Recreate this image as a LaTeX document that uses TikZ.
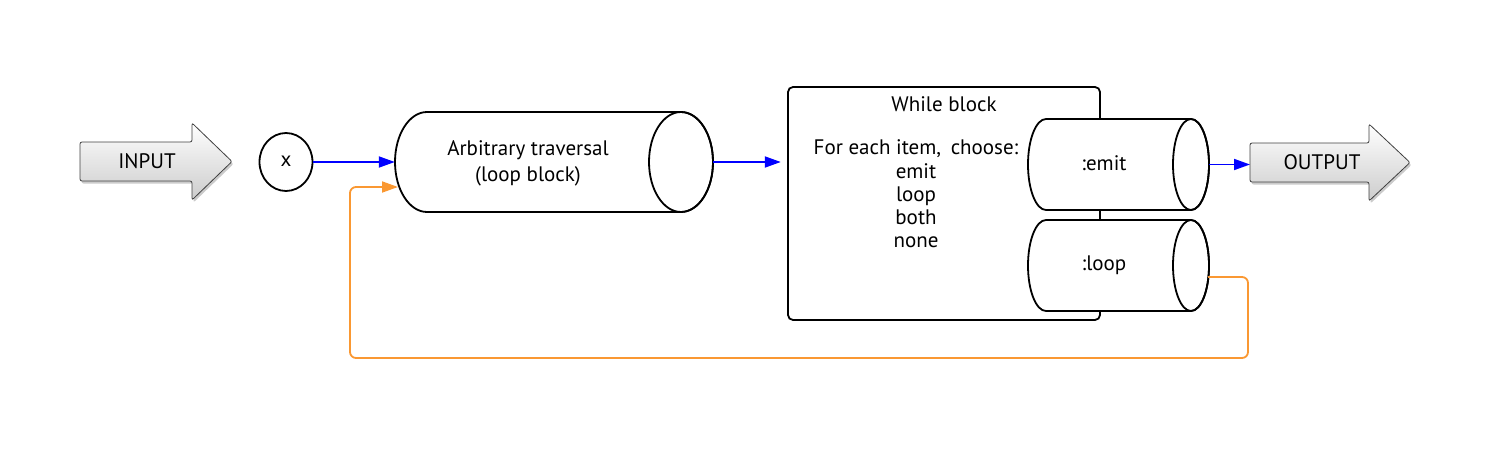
\documentclass[tikz,border=0pt]{standalone}
\usepackage{fontspec}
\setmainfont{PT Sans}
\usetikzlibrary{arrows.meta,shadows,calc,shapes.geometric}
\definecolor{myorange}{RGB}{250,152,50}
\begin{document}
\begin{tikzpicture}[x=1pt,y=-1pt,
  bigarrow/.style={draw=black!75, line width=0.8pt, rounded corners=2pt,
    top color=white, bottom color=black!20,
    drop shadow={shadow xshift=1.5pt, shadow yshift=-2.5pt, fill=black!45, opacity=0.45}},
  cyl/.style={draw, line width=1.8pt, fill=white},
  blockbox/.style={draw, line width=1.8pt, rounded corners=5pt},
  txt/.style={font=\fontsize{21}{23.3}\selectfont, align=center, inner sep=0pt},
  area/.style={inner sep=0pt, draw=none},
  flow/.style={blue, line width=1.8pt, -{Triangle[length=16pt,width=11pt]}},
  back/.style={myorange, line width=1.8pt, rounded corners=6pt, -{Triangle[length=16pt,width=11pt]}}]
\useasboundingbox (0,0) rectangle (1496,452);

% INPUT arrow
\path[bigarrow] (80,142) -- (192,142) -- (192,123) -- (232,161.5) -- (192,200) -- (192,181) -- (80,181) -- cycle;
\node[txt] (inp) at (147,161.5) {INPUT};

% x circle
\node[draw, line width=1.8pt, ellipse, minimum width=53pt, minimum height=58pt, inner sep=0pt] (x) at (286,162) {};
\node[txt] (xl) at (286,161) {x};

% traversal cylinder
\node[area, minimum width=318pt, minimum height=100pt] (trav) at (554,162) {};
\path[cyl] (427,112) arc[start angle=270, end angle=90, x radius=32, y radius=50]
  -- (681,212) arc[start angle=90, end angle=-90, x radius=32, y radius=50] -- cycle;
\draw[line width=1.8pt] (681,162) ellipse[x radius=32, y radius=50];
\node[txt, font=\fontsize{21}{26}\selectfont] (travt) at (528,163) {Arbitrary traversal\\(loop block)};

% while block
\node[area, minimum width=313pt, minimum height=233pt] (while) at (943.5,203.5) {};
\draw[blockbox] (788,87) rectangle (1100,320);
\node[txt] (wt) at (944,104) {While block};
\node[txt] (wc) at (916,194) {For each item,\hspace{4pt} choose:\\emit\\loop\\both\\none};

% emit cylinder
\node[area, minimum width=181pt, minimum height=91pt] (emit) at (1118.5,164.5) {};
\path[cyl] (1046,119) arc[start angle=270, end angle=90, x radius=18, y radius=45.5]
  -- (1191,210) arc[start angle=90, end angle=-90, x radius=18, y radius=45.5] -- cycle;
\draw[line width=1.8pt] (1191,164.5) ellipse[x radius=18, y radius=45.5];
\node[txt] (et) at (1104,163) {:emit};

% loop cylinder
\node[area, minimum width=181pt, minimum height=91pt] (loop) at (1118.5,265.5) {};
\path[cyl] (1046,220) arc[start angle=270, end angle=90, x radius=18, y radius=45.5]
  -- (1191,311) arc[start angle=90, end angle=-90, x radius=18, y radius=45.5] -- cycle;
\draw[line width=1.8pt] (1191,265.5) ellipse[x radius=18, y radius=45.5];
\node[txt] (lt) at (1104,265) {:loop};

% OUTPUT arrow
\path[bigarrow] (1250,143) -- (1369,143) -- (1369,124) -- (1410,162.5) -- (1369,201) -- (1369,182) -- (1250,182) -- cycle;
\node[txt] (outp) at (1322,162.5) {OUTPUT};
\coordinate (outw) at (1250,164.5);

% connectors
\coordinate (loopout) at (1208,277);
\coordinate (travin) at (398,187);
\draw[flow] (x.east) -- (trav.west);
\draw[flow, shorten >=6pt] (trav.east) -- (trav.east -| while.west);
\draw[flow] (emit.east) -- (outw);
\draw[back] (loopout) -- (1248,277) -- (1248,358) -- (350,358) -- (350,187) -- (travin);
\end{tikzpicture}
\end{document}
